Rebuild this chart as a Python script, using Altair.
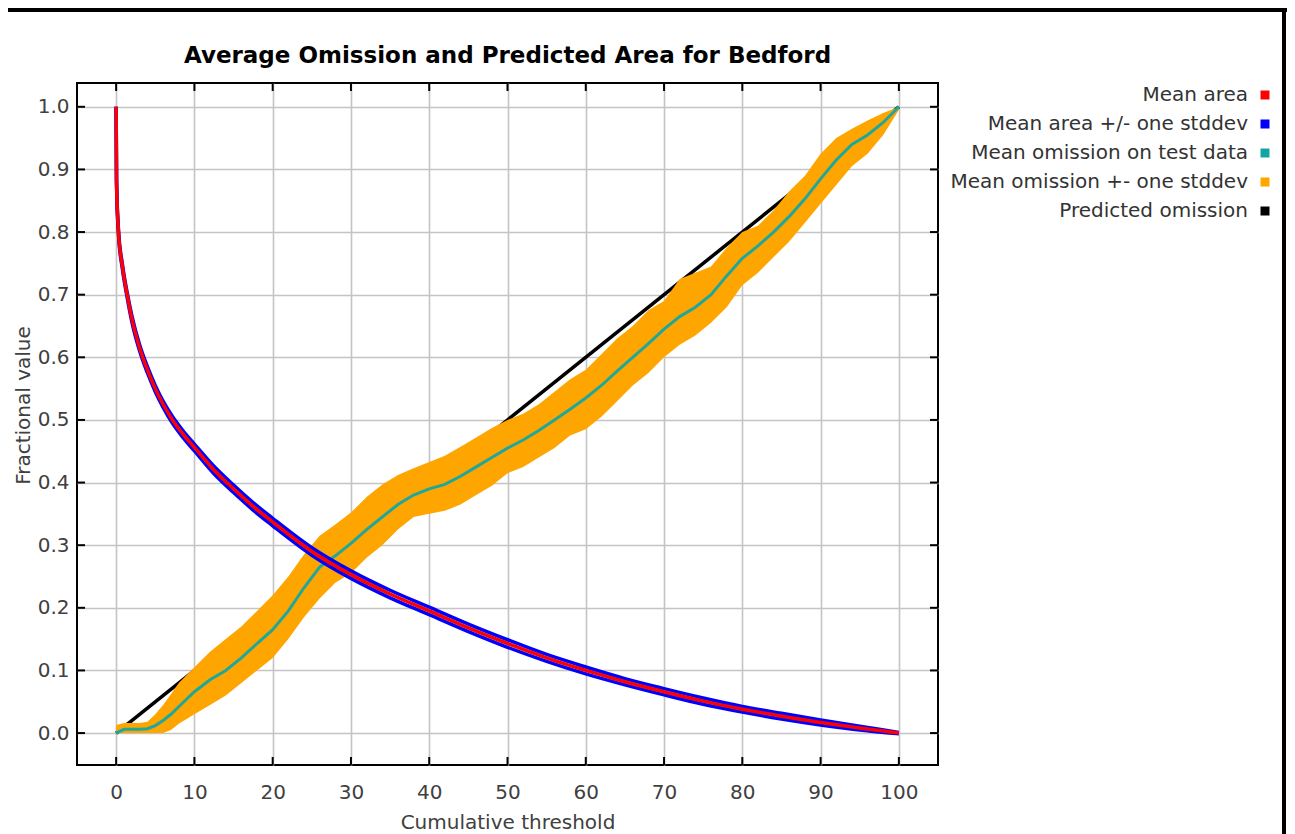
import altair as alt
import pandas as pd

# ---------------- data ----------------
x_ticks = [0, 10, 20, 30, 40, 50, 60, 70, 80, 90, 100]
y_ticks = [0.0, 0.1, 0.2, 0.3, 0.4, 0.5, 0.6, 0.7, 0.8, 0.9, 1.0]

# Mean area (red) and its stddev (blue)
area_x = [0, 0.05, 0.3, 0.8, 1.4, 2, 3, 4, 5, 6, 7.2, 8.5, 10, 12.5, 15, 17.5, 20,
          25, 30, 35, 40, 45, 50, 55, 60, 65, 70, 75, 80, 85, 90, 95, 100]
area_mean = [1.0, 0.88, 0.80, 0.745, 0.70, 0.662, 0.615, 0.58, 0.55, 0.525, 0.50,
             0.478, 0.456, 0.42, 0.39, 0.362, 0.337, 0.29, 0.253, 0.222, 0.195,
             0.168, 0.143, 0.12, 0.10, 0.082, 0.066, 0.051, 0.038, 0.027, 0.017,
             0.008, 0.0]
area_sd = [0.0, 0.004, 0.004, 0.004, 0.004, 0.005, 0.005, 0.005, 0.005, 0.005,
           0.0055, 0.0055, 0.0055, 0.006, 0.006, 0.006, 0.006, 0.006, 0.006, 0.006,
           0.006, 0.006, 0.006, 0.0055, 0.0055, 0.005, 0.005, 0.005, 0.0045, 0.0045,
           0.004, 0.003, 0.001]

# Mean omission on test data (teal) and +- one stddev (orange)
om_x = [0, 1, 2, 3, 4, 5, 6, 7, 8, 10, 12, 14, 16, 18, 20, 22, 24, 26, 28, 30, 32,
        34, 36, 38, 40, 42, 44, 46, 48, 50, 52, 54, 56, 58, 60, 62, 64, 66, 68, 70,
        72, 74, 76, 78, 80, 82, 84, 86, 88, 90, 92, 94, 96, 98, 100]
om_mean = [0.0, 0.006, 0.006, 0.006, 0.007, 0.012, 0.02, 0.03, 0.042, 0.066, 0.085,
           0.10, 0.12, 0.143, 0.165, 0.195, 0.232, 0.265, 0.283, 0.303, 0.325, 0.345,
           0.365, 0.38, 0.39, 0.397, 0.41, 0.425, 0.44, 0.455, 0.468, 0.483, 0.50,
           0.517, 0.535, 0.555, 0.578, 0.60, 0.622, 0.645, 0.665, 0.68, 0.70, 0.73,
           0.758, 0.778, 0.80, 0.825, 0.853, 0.885, 0.915, 0.94, 0.955, 0.975, 1.0]
om_lo = [0.0, 0.0, 0.0, 0.0, 0.0, 0.0, 0.0, 0.005, 0.015, 0.03, 0.045, 0.06, 0.08,
         0.10, 0.12, 0.15, 0.185, 0.215, 0.24, 0.255, 0.28, 0.30, 0.325, 0.345, 0.35,
         0.355, 0.365, 0.38, 0.395, 0.415, 0.425, 0.44, 0.455, 0.475, 0.485, 0.505,
         0.53, 0.555, 0.575, 0.60, 0.62, 0.635, 0.655, 0.68, 0.715, 0.735, 0.76,
         0.785, 0.815, 0.845, 0.875, 0.905, 0.925, 0.955, 0.995]
om_hi = [0.013, 0.016, 0.016, 0.016, 0.018, 0.03, 0.045, 0.062, 0.08, 0.105, 0.13,
         0.15, 0.17, 0.195, 0.22, 0.25, 0.285, 0.315, 0.333, 0.352, 0.377, 0.397,
         0.412, 0.423, 0.433, 0.443, 0.457, 0.472, 0.487, 0.50, 0.51, 0.525, 0.545,
         0.565, 0.58, 0.605, 0.63, 0.65, 0.675, 0.69, 0.725, 0.735, 0.745, 0.775,
         0.80, 0.81, 0.835, 0.865, 0.89, 0.925, 0.95, 0.965, 0.978, 0.99, 1.0]

# Predicted omission (black)
pred_x = [0, 100]
pred_y = [0.0, 1.0]

legend_labels = ["Mean area", "Mean area +/- one stddev", "Mean omission on test data",
                 "Mean omission +- one stddev", "Predicted omission"]
legend_colors = ["#ff0000", "#0000ff", "#12a6a2", "#ffa500", "#000000"]

title_text = ["Average Omission and Predicted Area for Bedford"]
x_title = "Cumulative threshold"
y_title = "Fractional value"

# ---------------- layout ----------------
W, H = 861, 682
FONT = "DejaVu Sans"
TEAL = "#1ea89c"

area_df = pd.DataFrame({
    "x": area_x, "mean": area_mean,
    "lo": [m - s for m, s in zip(area_mean, area_sd)],
    "hi": [m + s for m, s in zip(area_mean, area_sd)],
})
om_df = pd.DataFrame({"x": om_x, "mean": om_mean, "lo": om_lo, "hi": om_hi})
pred_df = pd.DataFrame({"x": pred_x, "y": pred_y})
xt_df = pd.DataFrame({"t": x_ticks})
yt_df = pd.DataFrame({"t": y_ticks})
leg_df = pd.DataFrame({"label": legend_labels})
title_df = pd.DataFrame({"t": title_text})
one_df = pd.DataFrame({"k": [0]})

xscale = alt.Scale(domain=[-5, 105], nice=False, zero=False)
yscale = alt.Scale(domain=[-0.051, 1.038], nice=False, zero=False)

xaxis = alt.Axis(values=x_ticks, format="d", title=x_title, grid=True, ticks=False,
                 tickSize=0, domain=False, labelPadding=17, titleY=63,
                 titleBaseline="alphabetic", labelFlush=False)
yaxis = alt.Axis(values=y_ticks, format=".1f", title=y_title, grid=True, ticks=False,
                 tickSize=0, domain=False, labelPadding=8, titleAngle=270,
                 titleX=-54, titleY=322, titleAlign="center", titleBaseline="middle",
                 labelFlush=False)


def X(f):
    return alt.X(f, type="quantitative", scale=xscale, axis=xaxis)


def Y(f):
    return alt.Y(f, type="quantitative", scale=yscale, axis=yaxis)


black = alt.Chart(pred_df).mark_line(color="black", strokeWidth=3.5).encode(
    x=X("x"), y=Y("y"))
orange = alt.Chart(om_df).mark_area(color="#ffa500", opacity=1).encode(
    x=X("x"), y=Y("lo"), y2=alt.Y2("hi"))
teal = alt.Chart(om_df).mark_line(color=TEAL, strokeWidth=3).encode(
    x=X("x"), y=Y("mean"))
blue_lo = alt.Chart(area_df).mark_line(color="#0000ff", strokeWidth=3.5,
                                       interpolate="monotone").encode(x=X("x"), y=Y("lo"))
blue_hi = alt.Chart(area_df).mark_line(color="#0000ff", strokeWidth=3.5,
                                       interpolate="monotone").encode(x=X("x"), y=Y("hi"))
red = alt.Chart(area_df).mark_line(color="#ff0000", strokeWidth=3.5,
                                   interpolate="monotone").encode(x=X("x"), y=Y("mean"))

tick_style = dict(color="black", strokeWidth=2)
xt_bot = alt.Chart(xt_df).mark_rule(**tick_style).encode(
    x=X("t"), y=alt.value(H), y2=alt.value(H - 8))
xt_top = alt.Chart(xt_df).mark_rule(**tick_style).encode(
    x=X("t"), y=alt.value(0), y2=alt.value(8))
yt_left = alt.Chart(yt_df).mark_rule(**tick_style).encode(
    y=Y("t"), x=alt.value(0), x2=alt.value(8))
yt_right = alt.Chart(yt_df).mark_rule(**tick_style).encode(
    y=Y("t"), x=alt.value(W - 8), x2=alt.value(W))

main = alt.layer(black, orange, teal, blue_lo, blue_hi, red,
                 xt_bot, xt_top, yt_left, yt_right)

# title, legend, frame
title = alt.Chart(title_df).mark_text(
    font=FONT, fontSize=23, fontWeight="bold", color="black",
    align="center", baseline="alphabetic").encode(
    x=alt.value(W / 2), y=alt.value(-20), text="t:N")

frame_top = alt.Chart(one_df).mark_rule(color="black", strokeWidth=4).encode(
    x=alt.value(-69), x2=alt.value(1210), y=alt.value(-73))
frame_right = alt.Chart(one_df).mark_rule(color="black", strokeWidth=4).encode(
    x=alt.value(1207), y=alt.value(-75), y2=alt.value(760))

leg_y = alt.Y("label:N", sort=None,
              scale=alt.Scale(domain=legend_labels, range=[12, 128], padding=0),
              axis=None)
leg_text = alt.Chart(leg_df).mark_text(
    font=FONT, fontSize=20, color="#333333", align="right", baseline="middle").encode(
    x=alt.value(1171), y=leg_y, text="label:N")
leg_sq = alt.Chart(leg_df).mark_square(size=81, opacity=1).encode(
    x=alt.value(1188), y=leg_y,
    color=alt.Color("label:N", scale=alt.Scale(domain=legend_labels, range=legend_colors),
                    legend=None))

decor = alt.layer(title, frame_top, frame_right, leg_text, leg_sq)

chart = alt.layer(main, decor).resolve_scale(y="independent").properties(
    width=W, height=H,
    padding={"left": 69, "top": 75, "right": 349, "bottom": 69},
    autosize=alt.AutoSizeParams(type="none"),
).configure_view(
    stroke="black", strokeWidth=2
).configure_axis(
    gridColor="#c4c4c4", gridWidth=1.6,
    labelFont=FONT, labelFontSize=20, labelColor="#404040",
    titleFont=FONT, titleFontSize=20, titleFontWeight="normal", titleColor="#404040",
)

chart.save("out.html", embed_options={"renderer": "svg", "actions": False})
